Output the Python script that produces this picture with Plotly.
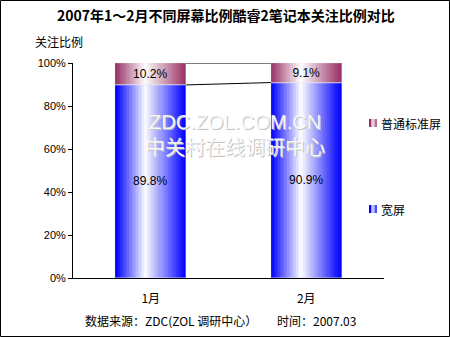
import plotly.graph_objects as go

# ---------------- data ----------------
categories = ["1月", "2月"]
series_names = ["宽屏", "普通标准屏"]
wide_vals = [89.8, 90.9]
std_vals = [10.2, 9.1]
wide_labels = ["89.8%", "90.9%"]
std_labels = ["10.2%", "9.1%"]
y_tickvals = [0, 20, 40, 60, 80, 100]
y_ticktext = ["0%", "20%", "40%", "60%", "80%", "100%"]
title_text = "2007年1～2月不同屏幕比例酷睿2笔记本关注比例对比"
y_title = "关注比例"
source_text = "数据来源：ZDC(ZOL 调研中心）"
time_text = "时间：2007.03"
watermark_1 = "ZDC.ZOL.COM.CN"
watermark_2 = "中关村在线调研中心"

# ---------------- layout geometry ----------------
W, H = 450, 337
L, R, T, B = 73, 66, 63, 59
PW = W - L - R
PH = H - T - B


def px(x):
    return (x - L) / PW


def py(y):
    return (H - B - y) / PH


FONT = "Liberation Sans, Noto Sans CJK SC, sans-serif"
CJK = "Noto Sans CJK SC, Liberation Sans, sans-serif"
BAR_W = 0.455
N_LAYERS = 20
WHITE_POS = 0.42
BLUE = (0, 0, 255)
PLUM = (153, 51, 102)


def blend(c, t):
    r, g, b = (round(ci + (255 - ci) * t) for ci in c)
    return f"rgb({r},{g},{b})"


xs = list(range(len(categories)))
fig = go.Figure()


def add_gradient(vals, bases, edge, name):
    left, right = -BAR_W / 2, BAR_W / 2
    centre = left + WHITE_POS * BAR_W
    for k in range(N_LAYERS):
        t = k / N_LAYERS
        lo = left + t * (centre - left)
        hi = right - t * (right - centre)
        colour = blend(edge, 0.97 * k / (N_LAYERS - 1))
        fig.add_trace(go.Bar(
            x=xs, y=vals, base=bases, width=hi - lo, offset=lo,
            marker=dict(color=colour, line=dict(width=0)),
            showlegend=False, hoverinfo="skip", name=name,
        ))


totals = [w + s for w, s in zip(wide_vals, std_vals)]
add_gradient(wide_vals, [0] * len(xs), BLUE, series_names[0])
add_gradient(std_vals, wide_vals, PLUM, series_names[1])

# value labels (transparent bars on top)
fig.add_trace(go.Bar(
    x=xs, y=wide_vals, base=[0] * len(xs), width=BAR_W,
    marker=dict(color="rgba(0,0,0,0)"), text=wide_labels,
    textposition="inside", insidetextanchor="middle",
    textfont=dict(family=FONT, size=12, color="black"),
    showlegend=False, hoverinfo="skip",
))
fig.add_trace(go.Bar(
    x=xs, y=std_vals, base=wide_vals, width=BAR_W,
    marker=dict(color="rgba(0,0,0,0)"), text=std_labels,
    textposition="inside", insidetextanchor="middle",
    textfont=dict(family=FONT, size=12, color="black"),
    showlegend=False, hoverinfo="skip",
))

# series lines
for ys in (wide_vals, totals):
    fig.add_trace(go.Scatter(
        x=[xs[0] + BAR_W / 2, xs[1] - BAR_W / 2], y=ys, mode="lines",
        line=dict(color="black", width=1), showlegend=False,
        hoverinfo="skip", cliponaxis=False,
    ))

annotations = [
    dict(text=y_title, x=px(33), y=py(41), xanchor="left", yanchor="middle",
         font=dict(family=CJK, size=12, color="black")),
    dict(text=source_text, x=px(83), y=py(320), xanchor="left", yanchor="middle",
         font=dict(family=CJK, size=12, color="black")),
    dict(text=time_text, x=px(275), y=py(320), xanchor="left", yanchor="middle",
         font=dict(family=CJK, size=12, color="black")),
]
for txt, cy, fam in ((watermark_1, 122, FONT), (watermark_2, 146, CJK)):
    annotations.append(dict(text=txt, x=px(235.5), y=py(cy + 1), xanchor="center",
                            yanchor="middle", font=dict(family=fam, size=20, color="#c4c4c4")))
    annotations.append(dict(text=txt, x=px(234.5), y=py(cy), xanchor="center",
                            yanchor="middle", font=dict(family=fam, size=20, color="rgba(252,252,252,0.92)")))

# legend (text + small gradient key), placed like the original
shapes = []
legend_items = [(series_names[1], PLUM, 123), (series_names[0], BLUE, 209)]
for name, edge, cy in legend_items:
    annotations.append(dict(text=name, x=px(379), y=py(cy), xanchor="left", yanchor="middle",
                            font=dict(family=CJK, size=12, color="black")))
    for x0, x1, t in ((369, 371.5, 0.0), (371.5, 374.5, 0.75), (374.5, 377, 0.3)):
        shapes.append(dict(type="rect", xref="paper", yref="paper",
                           x0=px(x0), x1=px(x1), y0=py(cy + 4), y1=py(cy - 4),
                           line=dict(width=0), fillcolor=blend(edge, t)))

for a in annotations:
    a.update(xref="paper", yref="paper", showarrow=False)

shapes.append(dict(type="rect", xref="paper", yref="paper",
                   x0=px(0.5), x1=px(449.5), y0=py(336.5), y1=py(0.5),
                   line=dict(color="black", width=1), fillcolor="rgba(0,0,0,0)",
                   layer="above"))

fig.update_layout(
    width=W, height=H,
    margin=dict(l=L, r=R, t=T, b=B),
    paper_bgcolor="white", plot_bgcolor="white",
    barmode="overlay", bargap=0,
    title=dict(text=f"<b>{title_text}</b>", x=0.502, xref="container", xanchor="center",
               y=1 - 16 / H, yanchor="middle", yref="container",
               font=dict(family=CJK, size=14, color="black")),
    font=dict(family=FONT, size=11, color="black"),
    xaxis=dict(range=[-0.5, 1.5], tickvals=xs, ticktext=categories,
               showline=True, linecolor="black", linewidth=1, ticks="",
               showgrid=False, zeroline=False, fixedrange=True,
               ticklabelstandoff=10, tickfont=dict(family=CJK, size=12)),
    yaxis=dict(range=[0, 100], tickvals=y_tickvals, ticktext=y_ticktext,
               showline=True, linecolor="black", linewidth=1, ticks="outside",
               ticklen=4, tickcolor="black", showgrid=False, zeroline=False,
               tickfont=dict(family=FONT, size=11)),
    annotations=annotations,
    shapes=shapes,
    showlegend=False,
)

fig.write_html("out.html")
